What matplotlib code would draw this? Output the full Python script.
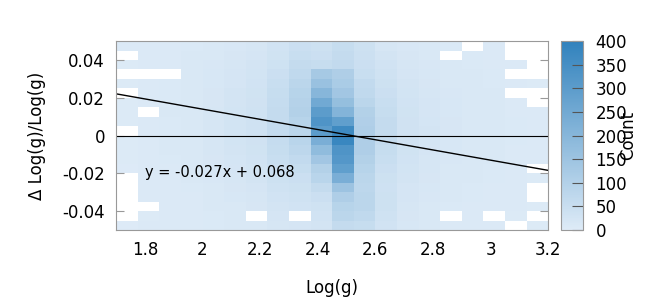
import numpy as np
import matplotlib
matplotlib.use('Agg')
import matplotlib.pyplot as plt
from matplotlib.colors import LinearSegmentedColormap

# histogram range and bin count (20 x 20 bins)
x_range = (1.7, 3.2)
y_range = (-0.05, 0.05)
n_bins = 20

# counts per Log(g) bin, listed top (y=0.05) to bottom (y=-0.05); None = empty bin
N = None
counts = [
    [8, N, 6, N, 5, N, 6, 5, 6, N, 6, 5, 5, 4, N, N, N, N, N, 4],
    [8, 8, 7, N, 8, 7, 8, N, 9, 8, 8, 9, 8, 7, 7, 7, 8, N, 6, 7],
    [9, 9, 9, N, 10, 10, 10, 11, 10, 10, 11, 11, 10, 9, 9, 8, 8, 8, 7, 8],
    [10, 11, 12, 12, 12, 13, 13, 13, 13, 14, 14, 14, 13, 12, 11, 10, 9, 9, 8, 9],
    [12, 14, 15, 16, 17, 18, 18, 19, 20, 20, 20, 19, 18, 16, 15, 13, 12, 11, 10, 10],
    [15, 18, 20, 22, 23, 25, 26, 27, 28, 28, 27, 26, 24, 22, 20, 18, 16, 14, 12, 12],
    [20, 22, 25, 28, 30, 32, 33, 35, 35, 35, 34, 32, 30, 28, 25, 22, 20, 18, N, 14],
    [30, 32, 36, 45, 50, 55, 58, 60, 62, 60, 58, 55, 50, 45, 40, 35, 30, 25, 22, 20],
    [45, 50, 60, 70, 80, 90, 95, 100, 90, 80, 85, 75, 65, 55, 45, 40, 35, 30, N, 22],
    [40, 45, 55, 130, 160, 200, 250, 300, 330, 300, 230, 180, 140, 100, 85, 60, 45, 35, 30, 25],
    [55, 60, 65, 110, 120, 140, 170, 210, 290, 370, 380, 330, 320, 290, 230, 150, 110, 90, 80, 60],
    [40, 42, 45, 50, 65, 70, 80, 100, 105, 110, 110, 110, 100, 90, 80, 75, 80, 80, 70, 55],
    [20, 25, 30, 35, 40, 45, 50, 55, 60, 62, 60, 55, 50, 45, 40, 38, 40, 40, 35, 30],
    [15, 18, 20, 22, 25, 28, 30, 32, 33, 34, 33, 32, 30, 27, 25, 22, 22, 20, 18, 16],
    [12, 14, 15, 17, 18, 20, 22, 23, 24, 25, 24, 22, 20, 19, 18, 16, 15, 14, 12, 12],
    [10, N, 12, 13, 14, 15, 16, 17, 18, 18, 17, 16, 15, 14, 13, 12, 11, 10, N, 9],
    [N, 10, 10, 11, 12, 13, 13, 14, 14, 14, 14, 13, 12, 12, 11, 10, 10, 9, 9, 8],
    [8, 9, 9, 10, 10, 11, 11, 12, 12, 12, 12, 11, 11, 10, 10, 9, 9, 8, N, 8],
    [N, N, 8, N, 8, N, 9, 9, 10, 10, 10, 9, 9, 8, 8, 8, 7, 7, 6, N],
    [N, N, N, N, 6, N, N, 7, 7, 7, 7, 7, 7, N, 6, N, N, 6, N, 6],
]

# linear fit shown on the plot
slope = -0.027
intercept = 0.068

x_ticks = [1.8, 2.0, 2.2, 2.4, 2.6, 2.8, 3.0, 3.2]
x_ticklabels = ['1.8', '2', '2.2', '2.4', '2.6', '2.8', '3', '3.2']
y_ticks = [0.04, 0.02, 0.0, -0.02, -0.04]
y_ticklabels = ['0.04', '0.02', '0', '-0.02', '-0.04']
cb_ticks = [0, 50, 100, 150, 200, 250, 300, 350, 400]

grid = np.array([[np.nan if v is None else v for v in col] for col in counts], dtype=float)
grid = grid.T[::-1]  # rows bottom -> top
x_edges = np.linspace(x_range[0], x_range[1], n_bins + 1)
y_edges = np.linspace(y_range[0], y_range[1], n_bins + 1)

cmap = LinearSegmentedColormap.from_list('blues2', ['#deebf7', '#3182bd'])
cmap.set_bad('white')

plt.rcParams['font.family'] = 'DejaVu Sans'
fig = plt.figure(figsize=(6.67, 3.02), dpi=100)
ax = fig.add_axes([0.174, 0.238, 0.648, 0.626])
cax = fig.add_axes([0.841, 0.238, 0.033, 0.626])

mesh = ax.pcolormesh(x_edges, y_edges, np.ma.masked_invalid(grid), cmap=cmap, vmin=0, vmax=400)

xs = np.array(x_range)
ax.plot(xs, slope * xs + intercept, color='black', lw=1)
ax.axhline(0, color='black', lw=0.8)
ax.text(1.8, -0.0195, 'y = -0.027x + 0.068', fontsize=10.5, va='center', ha='left')

ax.set_xlim(*x_range)
ax.set_ylim(*y_range)
ax.set_xticks(x_ticks)
ax.set_xticklabels(x_ticklabels)
ax.set_yticks(y_ticks)
ax.set_yticklabels(y_ticklabels)
ax.tick_params(axis='x', length=0, labelsize=12, pad=8)
ax.tick_params(axis='y', direction='in', length=6, color='#999999', labelsize=12,
               right=True, pad=8)
for s in ax.spines.values():
    s.set_color('#999999')
ax.set_xlabel('Log(g)', fontsize=12, labelpad=14)
ax.set_ylabel('\u0394 Log(g)/Log(g)', fontsize=12, labelpad=12)

cb = fig.colorbar(mesh, cax=cax, ticks=cb_ticks)
cb.outline.set_edgecolor('#999999')
cax.tick_params(direction='in', length=8, color='#555555', labelsize=12, pad=9)
cb.set_label('Count', fontsize=12, labelpad=-6)

fig.savefig('out.png', dpi=100)
